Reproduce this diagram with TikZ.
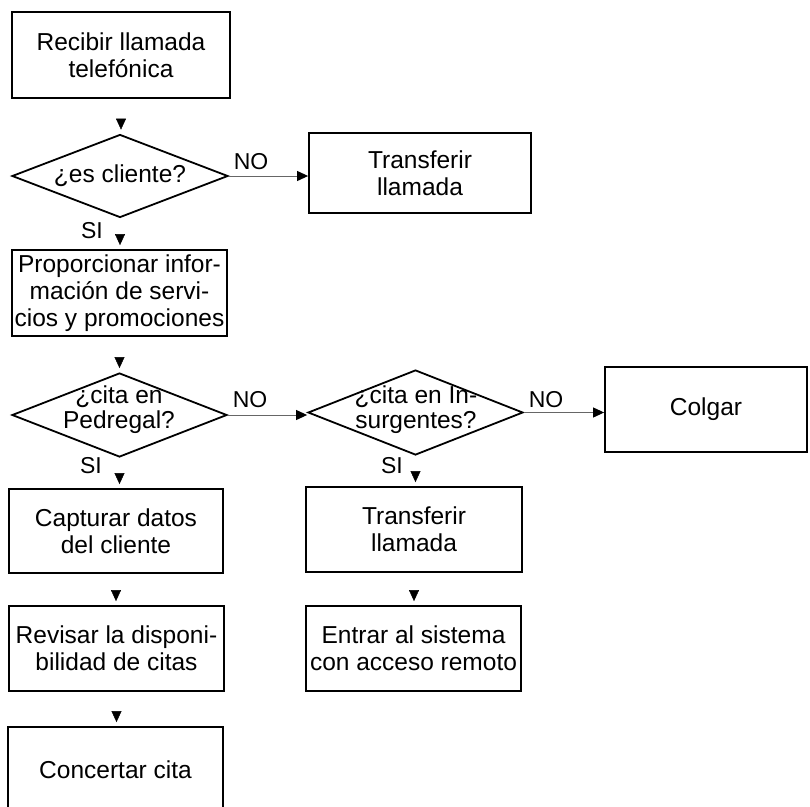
\documentclass[tikz,border=0pt]{standalone}
\usepackage{fontspec}
\setmainfont{Liberation Sans}
\usetikzlibrary{shapes.geometric,arrows.meta,decorations.markings}
\begin{document}
\begin{tikzpicture}[x=1pt,y=-1pt,
  box/.style={draw, line width=1.8pt, rectangle, inner sep=0pt, align=center, font=\fontsize{24.5}{27}\selectfont},
  dec/.style={draw, line width=1.8pt, diamond, inner sep=0pt},
  dlab/.style={align=center, font=\fontsize{24.5}{25}\selectfont, inner sep=0pt},
  lab/.style={font=\fontsize{23}{24}\selectfont, inner sep=0pt},
  vtip/.style={decoration={markings, mark=at position -4pt with {\arrow{Triangle[length=11pt,width=10pt]}}}, decorate},
  harrow/.style={draw=black!60, line width=1pt, -{Triangle[length=11pt,width=10pt,color=black]}},
]
\useasboundingbox (0,0) rectangle (810,806);
\clip (0,0) rectangle (810,806);

% boxes
\node[box, minimum width=218pt, minimum height=86pt] (b1) at (121,55) {Recibir llamada\\telefónica};
\node[dec, minimum width=216pt, minimum height=83pt] (d1) at (120,176) {};
\node[dlab] (d1t) at (d1) {¿es cliente?};
\node[box, minimum width=222pt, minimum height=80pt] (t1) at (420,173) {Transferir\\llamada};
\node[box, minimum width=215pt, minimum height=86pt] (b3) at (119.5,293) {Proporcionar infor-\\mación de servi-\\cios y promociones};
\node[dec, minimum width=215pt, minimum height=84pt] (d2) at (119.5,415) {};
\node[dlab] (d2t) at (119,410) {¿cita en\\Pedregal?};
\node[dec, minimum width=215pt, minimum height=85pt] (d3) at (415.5,412.5) {};
\node[dlab] (d3t) at (416,410) {¿cita en In-\\surgentes?};
\node[box, minimum width=202pt, minimum height=85pt] (c1) at (706,409.5) {Colgar};
\node[box, minimum width=214pt, minimum height=84pt] (b5) at (116,531) {Capturar datos\\del cliente};
\node[box, minimum width=215pt, minimum height=85pt] (b6) at (116.5,648.5) {Revisar la disponi-\\bilidad de citas};
\node[box, minimum width=215pt, minimum height=86pt] (b7) at (115.5,770) {Concertar cita};
\node[box, minimum width=216pt, minimum height=85pt] (t2) at (414,529.5) {Transferir\\llamada};
\node[box, minimum width=215pt, minimum height=85pt] (e1) at (413.5,648.5) {Entrar al sistema\\con acceso remoto};

% labels
\node[lab] (no1) at (251,162) {NO};
\node[lab] (si1) at (92,231) {SI};
\node[lab] (no2) at (250,400) {NO};
\node[lab] (no3) at (546,400) {NO};
\node[lab] (si2) at (91,466) {SI};
\node[lab] (si3) at (392,466) {SI};

% vertical connectors (arrow heads only)
\path[vtip] (b1.south) -- (b1.south |- d1.north);
\path[vtip] (d1.south) -- (d1.south |- b3.north);
\path[vtip] (b3.south) -- (b3.south |- d2.north);
\path[vtip] (d2.south) -- (d2.south |- b5.north);
\path[vtip] (b5.south) -- (b5.south |- b6.north);
\path[vtip] (b6.south) -- (b6.south |- b7.north);
\path[vtip] (d3.south) -- (d3.south |- t2.north);
\path[vtip] (t2.south) -- (t2.south |- e1.north);

% horizontal connectors
\draw[harrow] (d1.east) -- (d1.east -| t1.west);
\draw[harrow] (d2.east) -- (d2.east -| d3.west);
\draw[harrow] (d3.east) -- (d3.east -| c1.west);
\end{tikzpicture}
\end{document}
